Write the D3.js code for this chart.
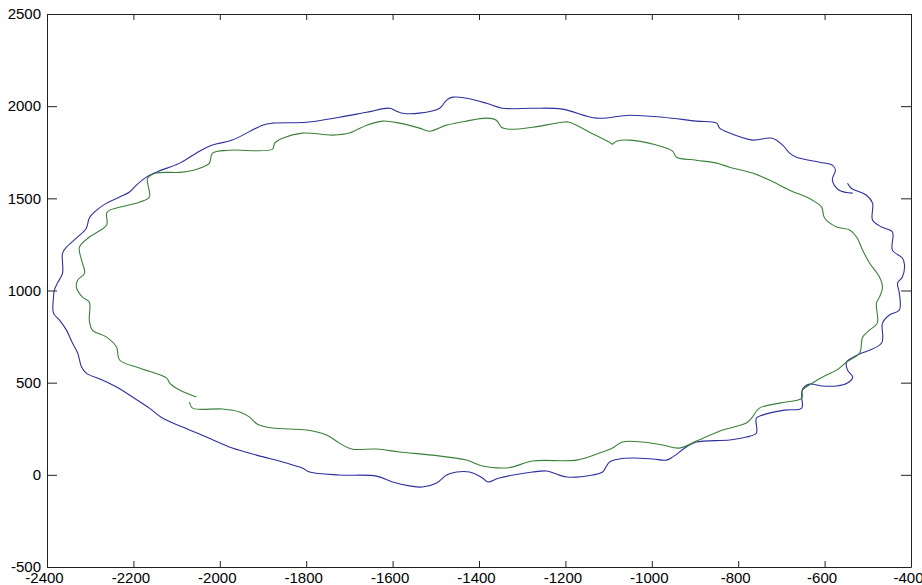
<!DOCTYPE html>
<html>
<head>
<meta charset="utf-8">
<script src="https://cdn.jsdelivr.net/npm/d3@7"></script>
<style>
  body { margin: 0; background: #fff; }
  .tick text { font-family: "Liberation Sans", Arial, sans-serif; font-size: 15px; fill: #000; }
</style>
</head>
<body>
<script>
// Chart data
var xTicks = [-2400, -2200, -2000, -1800, -1600, -1400, -1200, -1000, -800, -600, -400];
var yTicks = [-500, 0, 500, 1000, 1500, 2000, 2500];

// outer trace (blue)
var blueX = [-547, -538, -503, -489, -489, -468, -443, -443, -420, -415, -420, -431, -427, -427, -450, -466, -468, -524, -549, -547,
  -535, -547, -572, -605, -635, -651, -653, -653, -693, -744, -758, -758, -781, -820, -897, -920, -952, -966, -998, -1045,
  -1075, -1098, -1114, -1137, -1197, -1221, -1244, -1276, -1353, -1380, -1392, -1422, -1452, -1475, -1498, -1531, -1561, -1600, -1637, -1723,
  -1792, -1809, -1846, -1915, -1971, -2031, -2086, -2133, -2163, -2202, -2239, -2272, -2309, -2320, -2329, -2341, -2355, -2371, -2385, -2385,
  -2383, -2376, -2364, -2364, -2355, -2332, -2309, -2302, -2285, -2262, -2232, -2209, -2193, -2170, -2147, -2093, -2047, -2017, -1971, -1901,
  -1878, -1799, -1723, -1660, -1607, -1591, -1577, -1538, -1491, -1475, -1461, -1429, -1383, -1346, -1276, -1207, -1128, -1052, -975, -897,
  -850, -843, -820, -767, -734, -721, -697, -681, -665, -612, -582, -575, -582, -566, -535];
var blueY = [1582, 1555, 1517, 1474, 1382, 1344, 1317, 1219, 1176, 1138, 1073, 1040, 986, 894, 867, 823, 715, 650, 612, 568,
  530, 498, 482, 482, 492, 465, 422, 362, 351, 324, 308, 227, 205, 189, 178, 151, 96, 80, 86, 91,
  86, 69, 15, -1, -12, 4, 21, 15, -17, -39, -17, 15, 15, -1, -44, -66, -60, -39, -7, -1,
  15, 37, 64, 107, 145, 205, 259, 308, 362, 422, 476, 514, 552, 585, 661, 715, 785, 839, 877, 964,
  1002, 1040, 1094, 1203, 1235, 1284, 1338, 1393, 1436, 1474, 1507, 1534, 1572, 1615, 1642, 1691, 1756, 1789, 1816, 1897,
  1908, 1913, 1940, 1967, 1989, 1973, 1962, 1962, 1989, 2033, 2049, 2043, 2016, 1989, 1989, 1984, 1935, 1951, 1940, 1919,
  1908, 1881, 1854, 1816, 1826, 1826, 1789, 1745, 1723, 1696, 1680, 1653, 1599, 1544, 1528];

// inner trace (green)
var greenX = [-2070, -2063, -1994, -1954, -1931, -1913, -1878, -1799, -1753, -1723, -1695, -1637, -1584, -1508, -1429, -1392, -1346, -1323, -1276, -1174,
  -1121, -1091, -1068, -1022, -975, -936, -897, -836, -781, -769, -751, -704, -653, -651, -628, -596, -572, -549, -519, -512,
  -496, -478, -480, -473, -466, -473, -496, -512, -526, -542, -572, -600, -607, -628, -642, -681, -728, -767, -820, -850,
  -897, -943, -952, -989, -1052, -1082, -1091, -1098, -1144, -1191, -1207, -1276, -1329, -1348, -1360, -1383, -1429, -1475, -1515, -1538,
  -1584, -1623, -1660, -1700, -1739, -1809, -1855, -1873, -1878, -1978, -2017, -2024, -2040, -2086, -2147, -2167, -2167, -2163, -2186, -2255,
  -2262, -2262, -2302, -2325, -2320, -2313, -2329, -2332, -2318, -2302, -2302, -2295, -2262, -2239, -2232, -2186, -2123, -2116, -2093, -2054];
var greenY = [395, 362, 357, 341, 313, 275, 254, 243, 216, 172, 140, 140, 124, 107, 80, 48, 37, 42, 75, 80,
  118, 145, 178, 178, 162, 145, 183, 243, 281, 308, 362, 389, 416, 460, 498, 541, 568, 612, 661, 747,
  785, 823, 932, 964, 1018, 1073, 1149, 1219, 1290, 1328, 1344, 1393, 1452, 1490, 1507, 1544, 1599, 1637, 1669, 1691,
  1707, 1723, 1756, 1789, 1816, 1810, 1794, 1805, 1859, 1913, 1913, 1886, 1875, 1886, 1924, 1935, 1919, 1897, 1864, 1881,
  1908, 1919, 1897, 1854, 1843, 1854, 1826, 1799, 1767, 1761, 1745, 1691, 1669, 1642, 1637, 1610, 1582, 1507, 1479, 1436,
  1420, 1355, 1290, 1235, 1165, 1094, 1056, 1018, 964, 937, 839, 785, 747, 693, 623, 579, 525, 498, 460, 422];

// Chart params
var svgWidth = 922;
var svgHeight = 585;
var margin = { top: 14, right: 11, bottom: 18, left: 47 };
var width = svgWidth - margin.left - margin.right;
var height = svgHeight - margin.top - margin.bottom;

var svg = d3.select("body")
  .append("svg")
  .attr("width", svgWidth)
  .attr("height", svgHeight);

var chartGroup = svg.append("g")
  .attr("transform", `translate(${margin.left}, ${margin.top})`);

var xScale = d3.scaleLinear().domain([-2400, -400]).range([0, width]);
var yScale = d3.scaleLinear().domain([-500, 2500]).range([height, 0]);

// plain hyphen minus, as in the original labels
var fmt = d => String(d);

// box axes with inward ticks, like MATLAB
var xAxis = d3.axisBottom(xScale).tickValues(xTicks).tickSizeInner(-6).tickSizeOuter(0).tickPadding(5).tickFormat(fmt);
var xTop = d3.axisTop(xScale).tickValues(xTicks).tickSizeInner(-6).tickSizeOuter(0).tickFormat("");
var yAxis = d3.axisLeft(yScale).tickValues(yTicks).tickSizeInner(-10).tickSizeOuter(0).tickPadding(6).tickFormat(fmt);
var yRight = d3.axisRight(yScale).tickValues(yTicks).tickSizeInner(-10).tickSizeOuter(0).tickFormat("");

var gx = chartGroup.append("g")
  .attr("transform", `translate(0, ${height})`)
  .call(xAxis);
gx.selectAll(".tick text").attr("dx", -3);

chartGroup.append("g").call(xTop);
chartGroup.append("g").call(yAxis);
chartGroup.append("g")
  .attr("transform", `translate(${width}, 0)`)
  .call(yRight);

chartGroup.selectAll(".domain, .tick line").attr("stroke", "#222");

// traces
var line = d3.line()
  .x(d => xScale(d[0]))
  .y(d => yScale(d[1]))
  .curve(d3.curveCatmullRom.alpha(0.5));

var bluePts = blueX.map((x, i) => [x, blueY[i]]);
var greenPts = greenX.map((x, i) => [x, greenY[i]]);

chartGroup.append("path")
  .datum(bluePts)
  .attr("d", line)
  .attr("fill", "none")
  .attr("stroke", "#2e2e9e")
  .attr("stroke-width", 1.1);

chartGroup.append("path")
  .datum(greenPts)
  .attr("d", line)
  .attr("fill", "none")
  .attr("stroke", "#3a803a")
  .attr("stroke-width", 1.1);
</script>
</body>
</html>
